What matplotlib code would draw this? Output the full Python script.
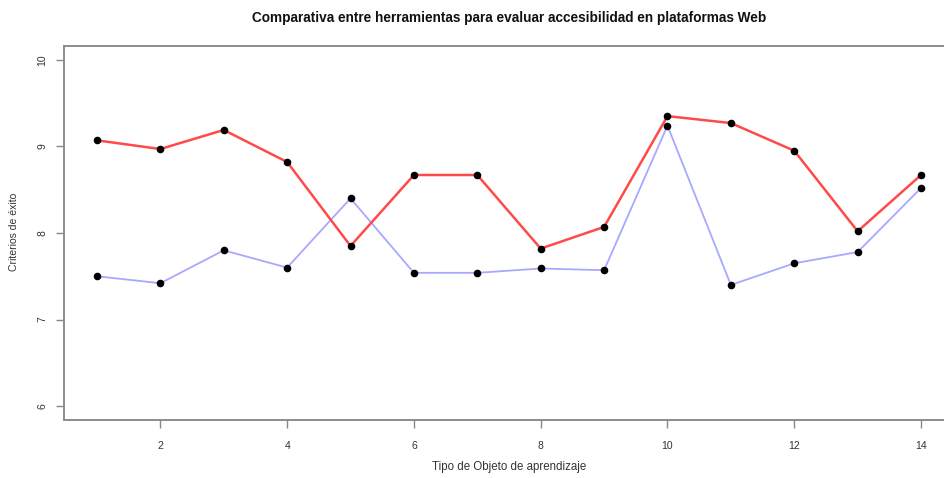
import matplotlib
matplotlib.use("Agg")
import matplotlib.pyplot as plt

plt.rcParams['font.family'] = ['Liberation Sans', 'DejaVu Sans']

x = list(range(1, 15))
red_vals = [9.07, 8.97, 9.19, 8.82, 7.85, 8.67, 8.67, 7.82, 8.07, 9.35, 9.27, 8.95, 8.02, 8.67]
blue_vals = [7.50, 7.42, 7.80, 7.60, 8.40, 7.54, 7.54, 7.59, 7.57, 9.24, 7.40, 7.65, 7.78, 8.52]
xticks = [2, 4, 6, 8, 10, 12, 14]
yticks = [6, 7, 8, 9, 10]

W, H = 945, 478
fig = plt.figure(figsize=(W / 100, H / 100), dpi=100)
ax = fig.add_axes([64 / W, (H - 420) / H, (954 - 64) / W, (420 - 46) / H])

ax.plot(x, blue_vals, color='#a8a8ff', lw=1.3, zorder=2)
ax.plot(x, red_vals, color='#ff4a4a', lw=1.8, zorder=2)
ax.scatter(x, blue_vals, s=20, color='black', zorder=3)
ax.scatter(x, red_vals, s=20, color='black', zorder=3)

ax.set_xlim(0.48, 14.52)
ax.set_ylim(5.84, 10.16)
ax.set_xticks(xticks)
ax.set_yticks(yticks)
ax.set_xticklabels([str(t) for t in xticks], fontsize=7.5, color='#333333')
ax.set_yticklabels([str(t) for t in yticks], fontsize=7.5, color='#333333', rotation=90, va='center')
ax.tick_params(axis='x', length=6, width=1, color='#888888', pad=9)
ax.tick_params(axis='y', length=6, width=1, color='#888888', pad=6)
for s in ax.spines.values():
    s.set_color('#8c8c8c')
    s.set_linewidth(1.4)

fig.text(509 / W, 1 - 467 / H, 'Tipo de Objeto de aprendizaje', ha='center', va='center',
         fontsize=8.3, color='#333333')
fig.text(14 / W, 1 - 232 / H, 'Criterios de éxito', ha='center', va='center',
         fontsize=7.5, color='#333333', rotation=90)
fig.text(509 / W, 1 - 18 / H, 'Comparativa entre herramientas para evaluar accesibilidad en plataformas Web',
         ha='center', va='center', fontsize=9.8, fontweight='bold', color='#111111')

fig.savefig('out.png', dpi=100)
